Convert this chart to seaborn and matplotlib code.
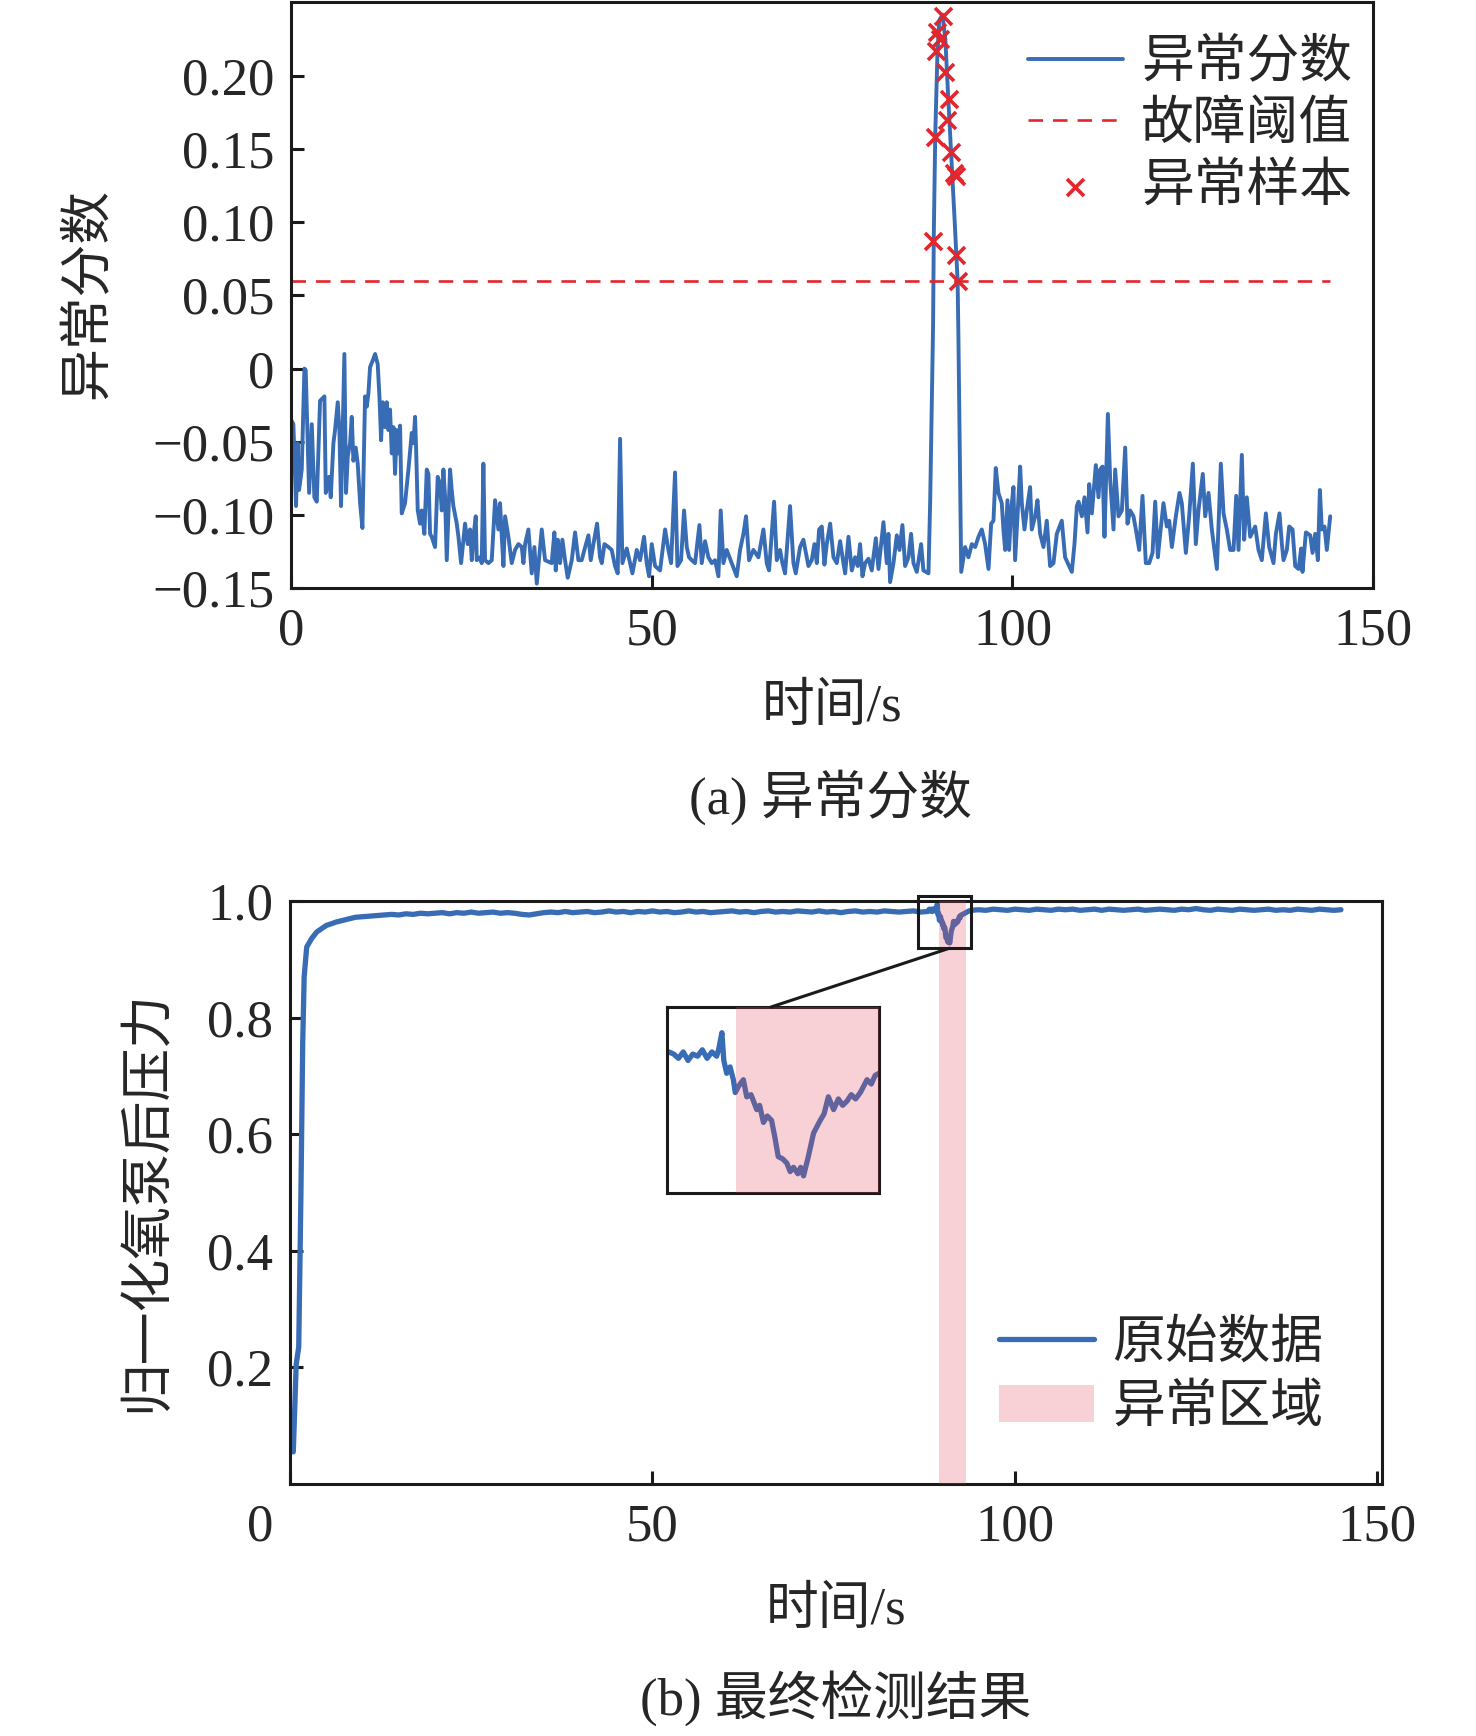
import numpy as np
import pandas as pd
import matplotlib
matplotlib.use('Agg')
import matplotlib.pyplot as plt
import seaborn as sns
from matplotlib.patches import Rectangle, ConnectionPatch
from matplotlib.transforms import ScaledTranslation

# ---------------- dados ----------------
# (a) pontuação de anomalia
score_t = [0.0, 0.32, 0.69, 0.92, 1.11, 1.48, 1.85, 2.03, 2.50, 2.87, 3.23, 3.56, 4.02, 4.62, 4.81,
           5.27, 5.50, 5.87, 6.10, 6.47, 6.70, 6.93, 7.39, 7.62, 7.86, 8.18, 8.41, 8.64, 8.96, 9.24,
           9.57, 9.89, 10.26, 10.49, 10.72, 10.95, 11.28, 11.65, 12.01, 12.25, 12.48, 12.71, 13.03,
           13.26, 13.49, 13.72, 13.96, 14.19, 14.42, 14.65, 14.88, 15.11, 15.34, 15.80, 16.27, 16.73,
           16.96, 17.19, 17.33, 17.56, 17.88, 18.11, 18.48, 18.81, 19.04, 19.27, 19.50, 19.96, 20.33,
           20.66, 20.89, 21.12, 21.35, 21.58, 22.04, 22.27, 22.50, 22.97, 23.20, 23.57, 24.12, 24.49,
           24.82, 25.05, 25.28, 25.60, 25.74, 26.20, 26.43, 26.66, 26.89, 27.36, 27.82, 28.28, 28.74,
           28.97, 29.21, 29.44, 29.67, 30.13, 30.59, 31.05, 31.52, 31.98, 32.21, 32.44, 32.90, 33.36,
           33.73, 34.06, 34.75, 35.21,
           36.13, 36.50, 36.69, 36.97, 37.29, 37.61, 37.98, 38.35, 38.91, 39.37, 39.83, 40.29, 40.66,
           41.22, 41.54, 41.91, 42.42, 42.83, 43.07, 43.44, 43.99, 44.45, 44.91, 45.28, 45.61, 45.93,
           46.53, 47.00, 47.32, 47.92, 48.38, 48.93, 49.30, 49.63, 50.00, 50.46, 51.15, 51.85, 52.31,
           52.68, 53.23, 53.56, 54.06, 54.48, 54.85, 55.17, 55.54, 56.00, 56.61, 56.93, 57.39, 57.85,
           58.32, 58.78, 59.24, 59.56, 59.93, 60.39, 61.09, 61.78, 62.24, 62.71, 63.07, 63.49, 64.09,
           64.78, 65.48, 65.94, 66.26, 66.96, 67.33, 67.79, 68.11, 68.48, 69.17, 69.64, 69.96, 70.56,
           71.02,
           71.72, 72.18, 72.55, 72.88, 73.20, 73.57, 73.94, 74.26, 74.73, 75.19, 75.65, 76.11, 76.57,
           76.81, 77.27, 77.73, 78.19, 78.56, 78.88, 79.21, 79.58, 80.04, 80.50, 81.06, 81.43, 82.12,
           82.58, 82.81, 83.04, 83.51, 83.97, 84.34, 84.75, 85.12, 85.59, 85.95, 86.28, 86.74, 87.34,
           87.66, 88.36,
           88.6, 89.0, 89.1, 89.3, 89.6, 89.85, 90.3, 90.7, 91.1, 91.6, 92.0, 92.4, 92.5, 92.9,
           93.44, 93.90, 94.37, 94.83, 95.29, 95.75, 96.21, 96.68, 97.05, 97.37, 97.69, 98.06, 98.52,
           98.75, 98.99, 99.31, 99.54, 99.82, 100.14, 100.37, 100.74, 101.07, 101.30, 101.67, 101.99,
           102.45, 102.68, 103.15, 103.47, 103.84, 104.30, 104.76, 105.22, 105.69, 106.15, 106.84,
           107.30,
           108.23, 108.60, 108.93, 109.16, 109.62, 109.99, 110.41, 110.64, 111.01, 111.56, 111.93,
           112.16, 112.49, 112.76, 113.23, 113.55, 114.01, 114.24, 114.70, 115.17, 115.63, 115.95,
           116.32, 116.78, 117.11, 117.57, 118.03, 118.49, 118.96, 119.42, 119.79, 120.16, 120.48,
           120.94, 121.40, 121.73, 122.10, 122.65, 123.16, 123.48, 124.04, 124.50, 125.01, 125.42,
           125.79, 126.39, 126.72, 127.18, 127.64, 128.34, 128.89, 129.26, 129.72, 130.18, 130.65,
           131.02, 131.34, 131.80, 132.12, 132.49, 132.96, 133.65, 134.11, 134.57, 135.13, 135.59,
           136.19, 136.52, 137.02, 137.35, 137.58, 138.04, 138.36, 138.83, 139.20, 139.66, 140.03,
           140.21, 140.68, 141.28, 141.60, 141.97, 142.34, 142.62, 142.89, 143.26, 143.58, 144.05]
score_v = [-0.035, -0.038, -0.094, -0.051, -0.083, -0.069, 0.000, -0.001, -0.085, -0.038, -0.088,
           -0.091, -0.022, -0.019, -0.085, -0.074, -0.088, -0.051, -0.042, -0.023, -0.042, -0.094,
           0.010, -0.085, -0.060, -0.051, -0.033, -0.063, -0.054, -0.065, -0.092, -0.109, -0.019,
           -0.026, -0.017, 0.001, 0.005, 0.010, 0.003, -0.019, -0.049, -0.023, -0.040, -0.023, -0.042,
           -0.028, -0.058, -0.040, -0.072, -0.042, -0.058, -0.039, -0.099, -0.092, -0.069, -0.044,
           -0.051, -0.033, -0.054, -0.097, -0.106, -0.097, -0.113, -0.069, -0.072, -0.113, -0.115,
           -0.122, -0.074, -0.079, -0.097, -0.069, -0.088, -0.131, -0.069, -0.083, -0.094, -0.106,
           -0.115, -0.133, -0.106, -0.120, -0.110, -0.131, -0.115, -0.101, -0.131, -0.129, -0.133,
           -0.065, -0.131, -0.133, -0.131, -0.090, -0.110, -0.092, -0.115, -0.135, -0.101, -0.115,
           -0.133, -0.124, -0.120, -0.122, -0.133, -0.120, -0.110, -0.140, -0.122, -0.147, -0.110,
           -0.131,
           -0.133, -0.112, -0.138, -0.117, -0.133, -0.117, -0.131, -0.143, -0.131, -0.112, -0.131,
           -0.131, -0.124, -0.114, -0.131, -0.120, -0.106, -0.129, -0.133, -0.120, -0.122, -0.124,
           -0.135, -0.140, -0.048, -0.133, -0.123, -0.133, -0.140, -0.124, -0.131, -0.115, -0.133,
           -0.142, -0.120, -0.135, -0.138, -0.110, -0.124, -0.133, -0.071, -0.135, -0.131, -0.097,
           -0.122, -0.129, -0.131, -0.133, -0.107, -0.133, -0.118, -0.129, -0.133, -0.131, -0.142,
           -0.097, -0.133, -0.124, -0.133, -0.142, -0.124, -0.113, -0.101, -0.131, -0.124, -0.129,
           -0.110, -0.133, -0.138, -0.091, -0.131, -0.124, -0.133, -0.140, -0.094, -0.133, -0.140,
           -0.122, -0.117,
           -0.135, -0.131, -0.120, -0.133, -0.110, -0.108, -0.134, -0.120, -0.106, -0.129, -0.133,
           -0.118, -0.133, -0.140, -0.115, -0.138, -0.129, -0.135, -0.120, -0.142, -0.133, -0.130,
           -0.138, -0.116, -0.137, -0.105, -0.133, -0.113, -0.146, -0.133, -0.114, -0.124, -0.107,
           -0.135, -0.129, -0.113, -0.133, -0.139, -0.120, -0.138, -0.140,
           -0.090, 0.030, 0.092, 0.160, 0.215, 0.238, 0.242, 0.225, 0.185, 0.138, 0.100, 0.060, 0.026,
           -0.139,
           -0.122, -0.129, -0.120, -0.122, -0.115, -0.110, -0.120, -0.137, -0.106, -0.104, -0.068,
           -0.085, -0.092, -0.110, -0.124, -0.090, -0.124, -0.097, -0.081, -0.131, -0.097, -0.067,
           -0.092, -0.110, -0.097, -0.081, -0.110, -0.101, -0.090, -0.113, -0.122, -0.104, -0.135,
           -0.133, -0.113, -0.104, -0.129,
           -0.139, -0.120, -0.094, -0.091, -0.101, -0.088, -0.112, -0.079, -0.099, -0.066, -0.088,
           -0.069, -0.067, -0.115, -0.031, -0.076, -0.110, -0.069, -0.101, -0.097, -0.054, -0.106,
           -0.097, -0.101, -0.110, -0.124, -0.087, -0.133, -0.133, -0.126, -0.091, -0.129, -0.113,
           -0.092, -0.108, -0.104, -0.122, -0.101, -0.085, -0.092, -0.126, -0.101, -0.065, -0.120,
           -0.097, -0.072, -0.101, -0.085, -0.110, -0.137, -0.065, -0.099, -0.110, -0.124, -0.124,
           -0.087, -0.124, -0.059, -0.117, -0.088, -0.115, -0.108, -0.124, -0.131, -0.099, -0.122,
           -0.133, -0.113, -0.099, -0.120, -0.131, -0.124, -0.108, -0.110, -0.135, -0.137, -0.123,
           -0.139, -0.112, -0.114, -0.126, -0.113, -0.131, -0.083, -0.110, -0.108, -0.124, -0.101]

# amostras anômalas (marcadores x)
anom_t = [90.35, 89.60, 89.97, 89.40, 90.67, 91.20, 90.90, 89.27, 91.45, 91.90, 92.20, 89.00, 92.20, 92.40]
anom_v = [0.241, 0.230, 0.225, 0.217, 0.203, 0.184, 0.170, 0.158, 0.148, 0.134, 0.132, 0.087, 0.078, 0.060]

threshold = 0.06

# (b) pressão normalizada
press_t = [0.45, 0.85, 1.20, 1.50, 1.75, 1.95, 2.30, 3.00, 3.70, 5.00, 6.40, 8.00, 9.00,
           10, 11, 12, 13, 14, 15, 16, 17, 18, 19, 20, 21, 22, 23, 24, 25, 26, 27, 28, 29, 30,
           31, 32, 33, 34, 35, 36, 37, 38, 39, 40, 41, 42, 43, 44, 45, 46, 47, 48, 49, 50,
           51, 52, 53, 54, 55, 56, 57, 58, 59, 60, 61, 62, 63, 64, 65, 66, 67, 68, 69, 70,
           71, 72, 73, 74, 75, 76, 77, 78, 79, 80, 81, 82, 83, 84, 85, 86, 87, 88,
           88.1, 88.2, 88.3, 88.4, 88.5, 88.6, 88.7, 88.8, 88.9, 89.0, 89.1, 89.2, 89.24, 89.31,
           89.35, 89.41, 89.48, 89.55, 89.59, 89.66, 89.76, 89.83, 89.92, 90.04, 90.10, 90.18,
           90.26, 90.35, 90.42, 90.49, 90.58, 90.67, 90.74, 90.81, 90.90, 90.96, 91.02, 91.12,
           91.23, 91.30, 91.37, 91.45, 91.54, 91.65, 91.75, 91.84, 91.93, 92.02, 92.11, 92.21,
           92.28, 92.35, 92.44, 92.52, 92.60, 92.8, 93.1, 93.4, 93.7, 94.0,
           95, 96, 97, 98, 99, 100, 101, 102, 103, 104, 105, 106, 107, 108, 109, 110, 111, 112,
           113, 114, 115, 116, 117, 118, 119, 120, 121, 122, 123, 124, 125, 126, 127, 128, 129,
           130, 131, 132, 133, 134, 135, 136, 137, 138, 139, 140, 141, 142, 143, 144, 145]
press_v = [0.055, 0.205, 0.235, 0.495, 0.757, 0.870, 0.921, 0.936, 0.947, 0.958, 0.964, 0.969, 0.972,
           0.973, 0.974, 0.975, 0.976, 0.977, 0.976, 0.978, 0.977, 0.979, 0.978, 0.979, 0.980, 0.978,
           0.980, 0.979, 0.981, 0.979, 0.980, 0.981, 0.979, 0.980, 0.979, 0.977, 0.976, 0.978, 0.980,
           0.981, 0.980, 0.982, 0.980, 0.981, 0.982, 0.980, 0.981, 0.983, 0.981, 0.982, 0.980, 0.982,
           0.981, 0.983, 0.981, 0.982, 0.980, 0.981, 0.983, 0.981, 0.982, 0.980, 0.981, 0.982, 0.983,
           0.981, 0.982, 0.980, 0.982, 0.983, 0.981, 0.982, 0.981, 0.983, 0.982, 0.981, 0.983, 0.981,
           0.982, 0.980, 0.982, 0.983, 0.981, 0.982, 0.981, 0.983, 0.982, 0.981, 0.982, 0.983, 0.981,
           0.982,
           0.984, 0.986, 0.985, 0.983, 0.986, 0.982, 0.985, 0.984, 0.987, 0.983, 0.986, 0.984, 0.987,
           0.995, 0.982, 0.976, 0.979, 0.973, 0.967, 0.970, 0.973, 0.965, 0.966, 0.959, 0.961, 0.953,
           0.956, 0.954, 0.946, 0.937, 0.936, 0.934, 0.930, 0.932, 0.929, 0.932, 0.928, 0.937, 0.948,
           0.951, 0.954, 0.957, 0.965, 0.959, 0.964, 0.961, 0.963, 0.966, 0.964, 0.967, 0.970, 0.973,
           0.971, 0.975, 0.976, 0.977, 0.979, 0.981, 0.983, 0.984,
           0.985, 0.984, 0.986, 0.985, 0.984, 0.986, 0.985, 0.984, 0.986, 0.985, 0.984, 0.986, 0.985,
           0.986, 0.984, 0.985, 0.986, 0.984, 0.986, 0.985, 0.984, 0.985, 0.986, 0.984, 0.985, 0.986,
           0.985, 0.984, 0.986, 0.985, 0.987, 0.985, 0.984, 0.986, 0.985, 0.984, 0.986, 0.985, 0.984,
           0.985, 0.986, 0.984, 0.985, 0.984, 0.986, 0.985, 0.984, 0.986, 0.985, 0.984, 0.985]

# região anômala
anom_region = (89.6, 93.2)

# ticks
score_ticks = [-0.15, -0.10, -0.05, 0, 0.05, 0.10, 0.15, 0.20]
score_tick_labels = ['\u22120.15', '\u22120.10', '\u22120.05', '0', '0.05', '0.10', '0.15', '0.20']
press_ticks = [0.2, 0.4, 0.6, 0.8, 1.0]
press_tick_labels = ['0.2', '0.4', '0.6', '0.8', '1.0']
time_ticks = [0, 50, 100, 150]
time_tick_labels = ['0', '50', '100', '150']

# janela do zoom (retângulo no gráfico principal) e limites do inset
zoom_box = (86.6, 0.919, 7.3, 0.090)
inset_xlim = (88.16, 92.6)
inset_ylim = (0.92, 1.007)

# ---------------- estilo ----------------
sns.set_theme(style='ticks')
plt.rcParams['font.family'] = ['Liberation Serif', 'Noto Sans CJK SC']
plt.rcParams['axes.unicode_minus'] = True
FS = 38
BLUE = '#386CB4'
RED = '#E3262D'
PINK = '#E34B5B'
PINK_ALPHA = 0.25

fig = plt.figure(figsize=(14.76, 17.36), dpi=100)

df_score = pd.DataFrame({'t': score_t, 'v': score_v})
df_thr = pd.DataFrame({'t': [score_t[0], score_t[-1]], 'v': [threshold, threshold]})
df_anom = pd.DataFrame({'t': anom_t, 'v': anom_v})
df_press = pd.DataFrame({'t': press_t, 'v': press_v})


def style_axes(ax):
    for s in ax.spines.values():
        s.set_linewidth(2.2)
        s.set_color('#1a1a1a')
    ax.tick_params(direction='in', length=9.5, width=2.2, labelsize=FS, color='#1a1a1a',
                   top=False, right=False)


# ---------------- (a) ----------------
ax1 = fig.add_axes([0.1972, 0.6613, 0.7331, 0.3376])
sns.lineplot(data=df_score, x='t', y='v', ax=ax1, color=BLUE, linewidth=2.8,
             estimator=None, sort=False, label='异常分数')
sns.lineplot(data=df_thr, x='t', y='v', ax=ax1, color=RED, linewidth=1.9,
             estimator=None, label='故障阈值')
ax1.lines[-1].set_linestyle((0, (5.5, 3.8)))
sns.scatterplot(data=df_anom, x='t', y='v', ax=ax1, color=RED, marker='x', s=150,
                linewidth=2.6, label='异常样本', zorder=4)
ax1.set_xlim(0, 150)
ax1.set_ylim(-0.15, 0.2507)
ax1.set_yticks(score_ticks)
ax1.set_yticklabels(score_tick_labels)
ax1.set_xticks(time_ticks)
ax1.set_xticklabels(time_tick_labels)
style_axes(ax1)
ax1.tick_params(axis='y', pad=12)
ax1.tick_params(axis='x', pad=14)
ax1.set_xlabel('时间/s', fontsize=FS)
ax1.xaxis.set_label_coords(0.5, -0.205)
ax1.xaxis.label.set_va('center')
ax1.set_ylabel('异常分数', fontsize=FS)
ax1.yaxis.set_label_coords(-0.187, 0.503)
ax1.yaxis.label.set_va('center')
ax1.legend(loc='upper right', bbox_to_anchor=(1.005, 0.981), frameon=False, fontsize=FS,
           handlelength=1.8, handletextpad=0.35, labelspacing=0.24, borderaxespad=0.1)

# ---------------- (b) ----------------
ax2 = fig.add_axes([0.1965, 0.1452, 0.7400, 0.3358])
sns.lineplot(data=df_press, x='t', y='v', ax=ax2, color=BLUE, linewidth=3.8,
             estimator=None, sort=False, label='原始数据')
ax2.axvspan(*anom_region, color=PINK, alpha=PINK_ALPHA, lw=0, zorder=3, label='异常区域')
ax2.set_xlim(0, 150.7)
ax2.set_ylim(0, 1.0)
ax2.set_yticks(press_ticks)
ax2.set_yticklabels(press_tick_labels)
ax2.set_xticks(time_ticks)
ax2.set_xticklabels(time_tick_labels)
style_axes(ax2)
ax2.tick_params(axis='y', pad=12)
ax2.tick_params(axis='x', pad=14)
# o "0" do eixo x fica deslocado para a esquerda na figura original
zero_lbl = ax2.xaxis.get_major_ticks()[0].label1
zero_lbl.set_transform(zero_lbl.get_transform() + ScaledTranslation(-0.30, 0, fig.dpi_scale_trans))
ax2.set_xlabel('时间/s', fontsize=FS)
ax2.xaxis.set_label_coords(0.5, -0.218)
ax2.xaxis.label.set_va('center')
ax2.set_ylabel('归一化氧泵后压力', fontsize=FS)
ax2.yaxis.set_label_coords(-0.131, 0.485)
ax2.yaxis.label.set_va('center')
ax2.legend(loc='lower right', bbox_to_anchor=(0.97, 0.042), frameon=False, fontsize=FS,
           handlelength=1.8, handletextpad=0.35, labelspacing=0.3, borderaxespad=0.1)

# retângulo do zoom
ax2.add_patch(Rectangle(zoom_box[:2], zoom_box[2], zoom_box[3], fill=False,
                        edgecolor='#1a1a1a', linewidth=2.2, zorder=5, clip_on=False))

# inset
axin = fig.add_axes([0.4519, 0.3128, 0.1436, 0.1071])
sns.lineplot(data=df_press, x='t', y='v', ax=axin, color=BLUE, linewidth=3.8,
             estimator=None, sort=False, legend=False)
axin.axvspan(*anom_region, color=PINK, alpha=PINK_ALPHA, lw=0, zorder=3)
axin.set_xlim(*inset_xlim)
axin.set_ylim(*inset_ylim)
axin.set_xticks([])
axin.set_yticks([])
axin.set_xlabel('')
axin.set_ylabel('')
for s in axin.spines.values():
    s.set_linewidth(2.2)
    s.set_color('#1a1a1a')

con = ConnectionPatch(xyA=(91.0, zoom_box[1]), coordsA=ax2.transData,
                      xyB=(0.49, 1.0), coordsB=axin.transAxes,
                      color='#1a1a1a', linewidth=2.2)
fig.add_artist(con)

# legendas das figuras
fig.text(0.5623, 0.5409, '(a) 异常分数', ha='center', va='center', fontsize=FS)
fig.text(0.5664, 0.0213, '(b) 最终检测结果', ha='center', va='center', fontsize=FS)

fig.savefig('out.png', dpi=100, facecolor='white')
